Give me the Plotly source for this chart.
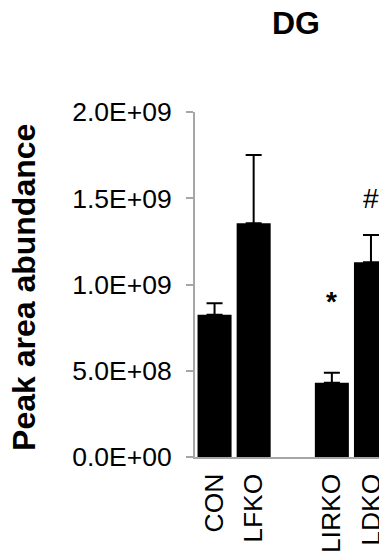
import plotly.graph_objects as go

categories = ["CON", "LFKO", " ", "LIRKO", "LDKO"]
values = [0.825e9, 1.355e9, None, 0.431e9, 1.129e9]
errors = [0.066e9, 0.396e9, 0, 0.058e9, 0.158e9]
ytick_vals = [0, 0.5e9, 1.0e9, 1.5e9, 2.0e9]
ytick_text = ["0.0E+00", "5.0E+08", "1.0E+09", "1.5E+09", "2.0E+09"]
marks = [("LIRKO", 0.90e9, "<b>*</b>"), ("LDKO", 1.50e9, "#")]

FONT = "Liberation Sans"
OFF = 8  # default page margin
W, H = 387 - OFF, 556 - OFF

fig = go.Figure()
fig.add_trace(go.Bar(
    x=categories, y=values,
    marker=dict(color="black", line=dict(width=0)),
    error_y=dict(type="data", array=errors, symmetric=False,
                 arrayminus=[0] * len(errors), color="black",
                 thickness=2, width=8),
    width=0.87,
))

for cat, yv, txt in marks:
    fig.add_annotation(x=cat, y=yv, text=txt, showarrow=False,
                       font=dict(family=FONT, size=28, color="black"),
                       xanchor="center", yanchor="middle")

L, T, B = 195 - OFF, 112 - OFF, 556 - 457
PW = W - L
fig.add_annotation(xref="paper", yref="paper", x=(24 - 195) / PW, y=0.49,
                   text="<b>Peak area abundance</b>", showarrow=False,
                   textangle=-90, font=dict(family=FONT, size=32, color="black"),
                   xanchor="center", yanchor="middle")

fig.update_layout(
    width=W, height=H,
    margin=dict(l=L, r=0, t=T, b=B, autoexpand=False),
    paper_bgcolor="white", plot_bgcolor="white",
    showlegend=False,
    title=dict(text="<b>DG</b>", xref="container", yref="container",
               x=(296 - OFF) / W, y=1 - (23 - OFF) / H, xanchor="center", yanchor="middle",
               font=dict(family=FONT, size=32, color="black")),
    xaxis=dict(
        type="category", range=[-0.5, 4.41],
        showline=True, linecolor="#a6a6a6", linewidth=2,
        ticks="", tickangle=-90, ticklabelstandoff=4,
        tickfont=dict(family=FONT, size=26.5, color="black"),
        showgrid=False, zeroline=False, automargin=False,
    ),
    yaxis=dict(
        range=[0, 2.0e9],
        tickvals=ytick_vals, ticktext=ytick_text,
        showline=True, linecolor="#a6a6a6", linewidth=2,
        ticks="outside", ticklen=7, tickcolor="#a6a6a6", tickwidth=2,
        ticklabelstandoff=9,
        tickfont=dict(family=FONT, size=26.5, color="black"),
        showgrid=False, zeroline=False, automargin=False,
    ),
)

fig.write_html("out.html")
